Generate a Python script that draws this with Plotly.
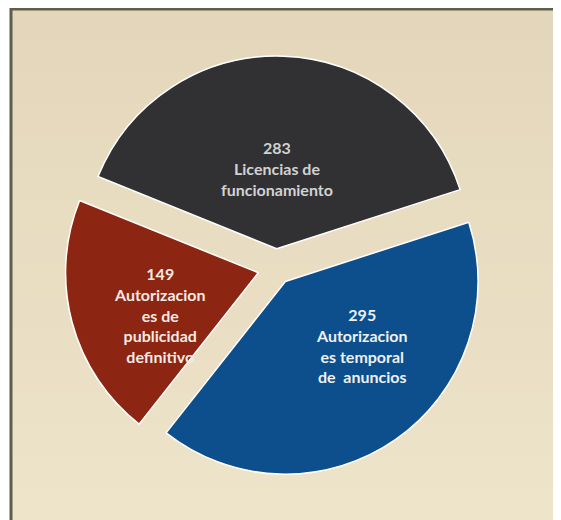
import plotly.graph_objects as go

# ==================================================
# Data
# ==================================================

categories = [
    "Licencias de funcionamiento",
    "Autorizaciones temporal de anuncios",
    "Autorizaciones de publicidad definitivo",
]
values = [283, 295, 149]
label_lines = [
    "Licencias de<br>funcionamiento",
    "Autorizacion<br>es temporal<br>de  anuncios",
    "Autorizacion<br>es de<br>publicidad<br>definitivo",
]
slice_colors = ["#313133", "#0d4f8c", "#8c2512"]
text_colors = ["#d2d2d2", "#eef0f2", "#f3e9e2"]

# page body keeps an 8px margin around the figure
OFF = 8
W, H = 561 - 2 * OFF, 520 - OFF


def fx(px_):
    return (px_ - OFF) / W


def fy(py_):
    return 1 - (py_ - OFF) / H


# ==================================================
# Figure
# ==================================================

fig = go.Figure()

fig.add_trace(go.Pie(
    labels=categories,
    values=values,
    sort=False,
    direction="clockwise",
    rotation=-68,
    pull=[0.1, 0.085, 0.095],
    marker=dict(colors=slice_colors, line=dict(color="white", width=1.5)),
    textinfo="none",
    hoverinfo="label+value",
    showlegend=False,
    domain=dict(x=[fx(64), fx(488)], y=[fy(480), fy(56)]),
))

# label placement (window pixels), one per slice
label_pos = [(277, 168), (362, 345), (160, 315)]
for v, txt, col, (px_, py_) in zip(values, label_lines, text_colors, label_pos):
    fig.add_annotation(
        x=fx(px_), y=fy(py_), xref="paper", yref="paper",
        text=f"{v}<br>{txt}", showarrow=False,
        font=dict(family="Lato", size=16, color=col, weight="bold"),
        align="center", xanchor="center", yanchor="middle",
    )

# beige card: soft vertical gradient, darker at the top
top_rgb = (228, 214, 187)
bot_rgb = (237, 228, 201)
n_bands = 16
y_top = fy(8)
for i in range(n_bands):
    t = i / (n_bands - 1)
    rgb = tuple(round(a + (b - a) * t) for a, b in zip(top_rgb, bot_rgb))
    fig.add_shape(type="rect", xref="paper", yref="paper",
                  x0=fx(10), x1=1.0,
                  y0=y_top * (1 - (i + 1) / n_bands) - 0.002,
                  y1=y_top * (1 - i / n_bands),
                  fillcolor="rgb(%d,%d,%d)" % rgb, line=dict(width=0),
                  layer="below")

# dark frame on top and left
fig.add_shape(type="line", xref="paper", yref="paper",
              x0=fx(10), x1=1.0, y0=fy(9), y1=fy(9),
              line=dict(color="#5b5f4b", width=3), layer="below")
fig.add_shape(type="line", xref="paper", yref="paper",
              x0=fx(11), x1=fx(11), y0=0.0, y1=fy(8),
              line=dict(color="#5b5f4b", width=3), layer="below")

fig.update_layout(
    width=W,
    height=H,
    margin=dict(l=0, r=0, t=0, b=0),
    paper_bgcolor="white",
    plot_bgcolor="white",
)

fig.write_html("out.html")
